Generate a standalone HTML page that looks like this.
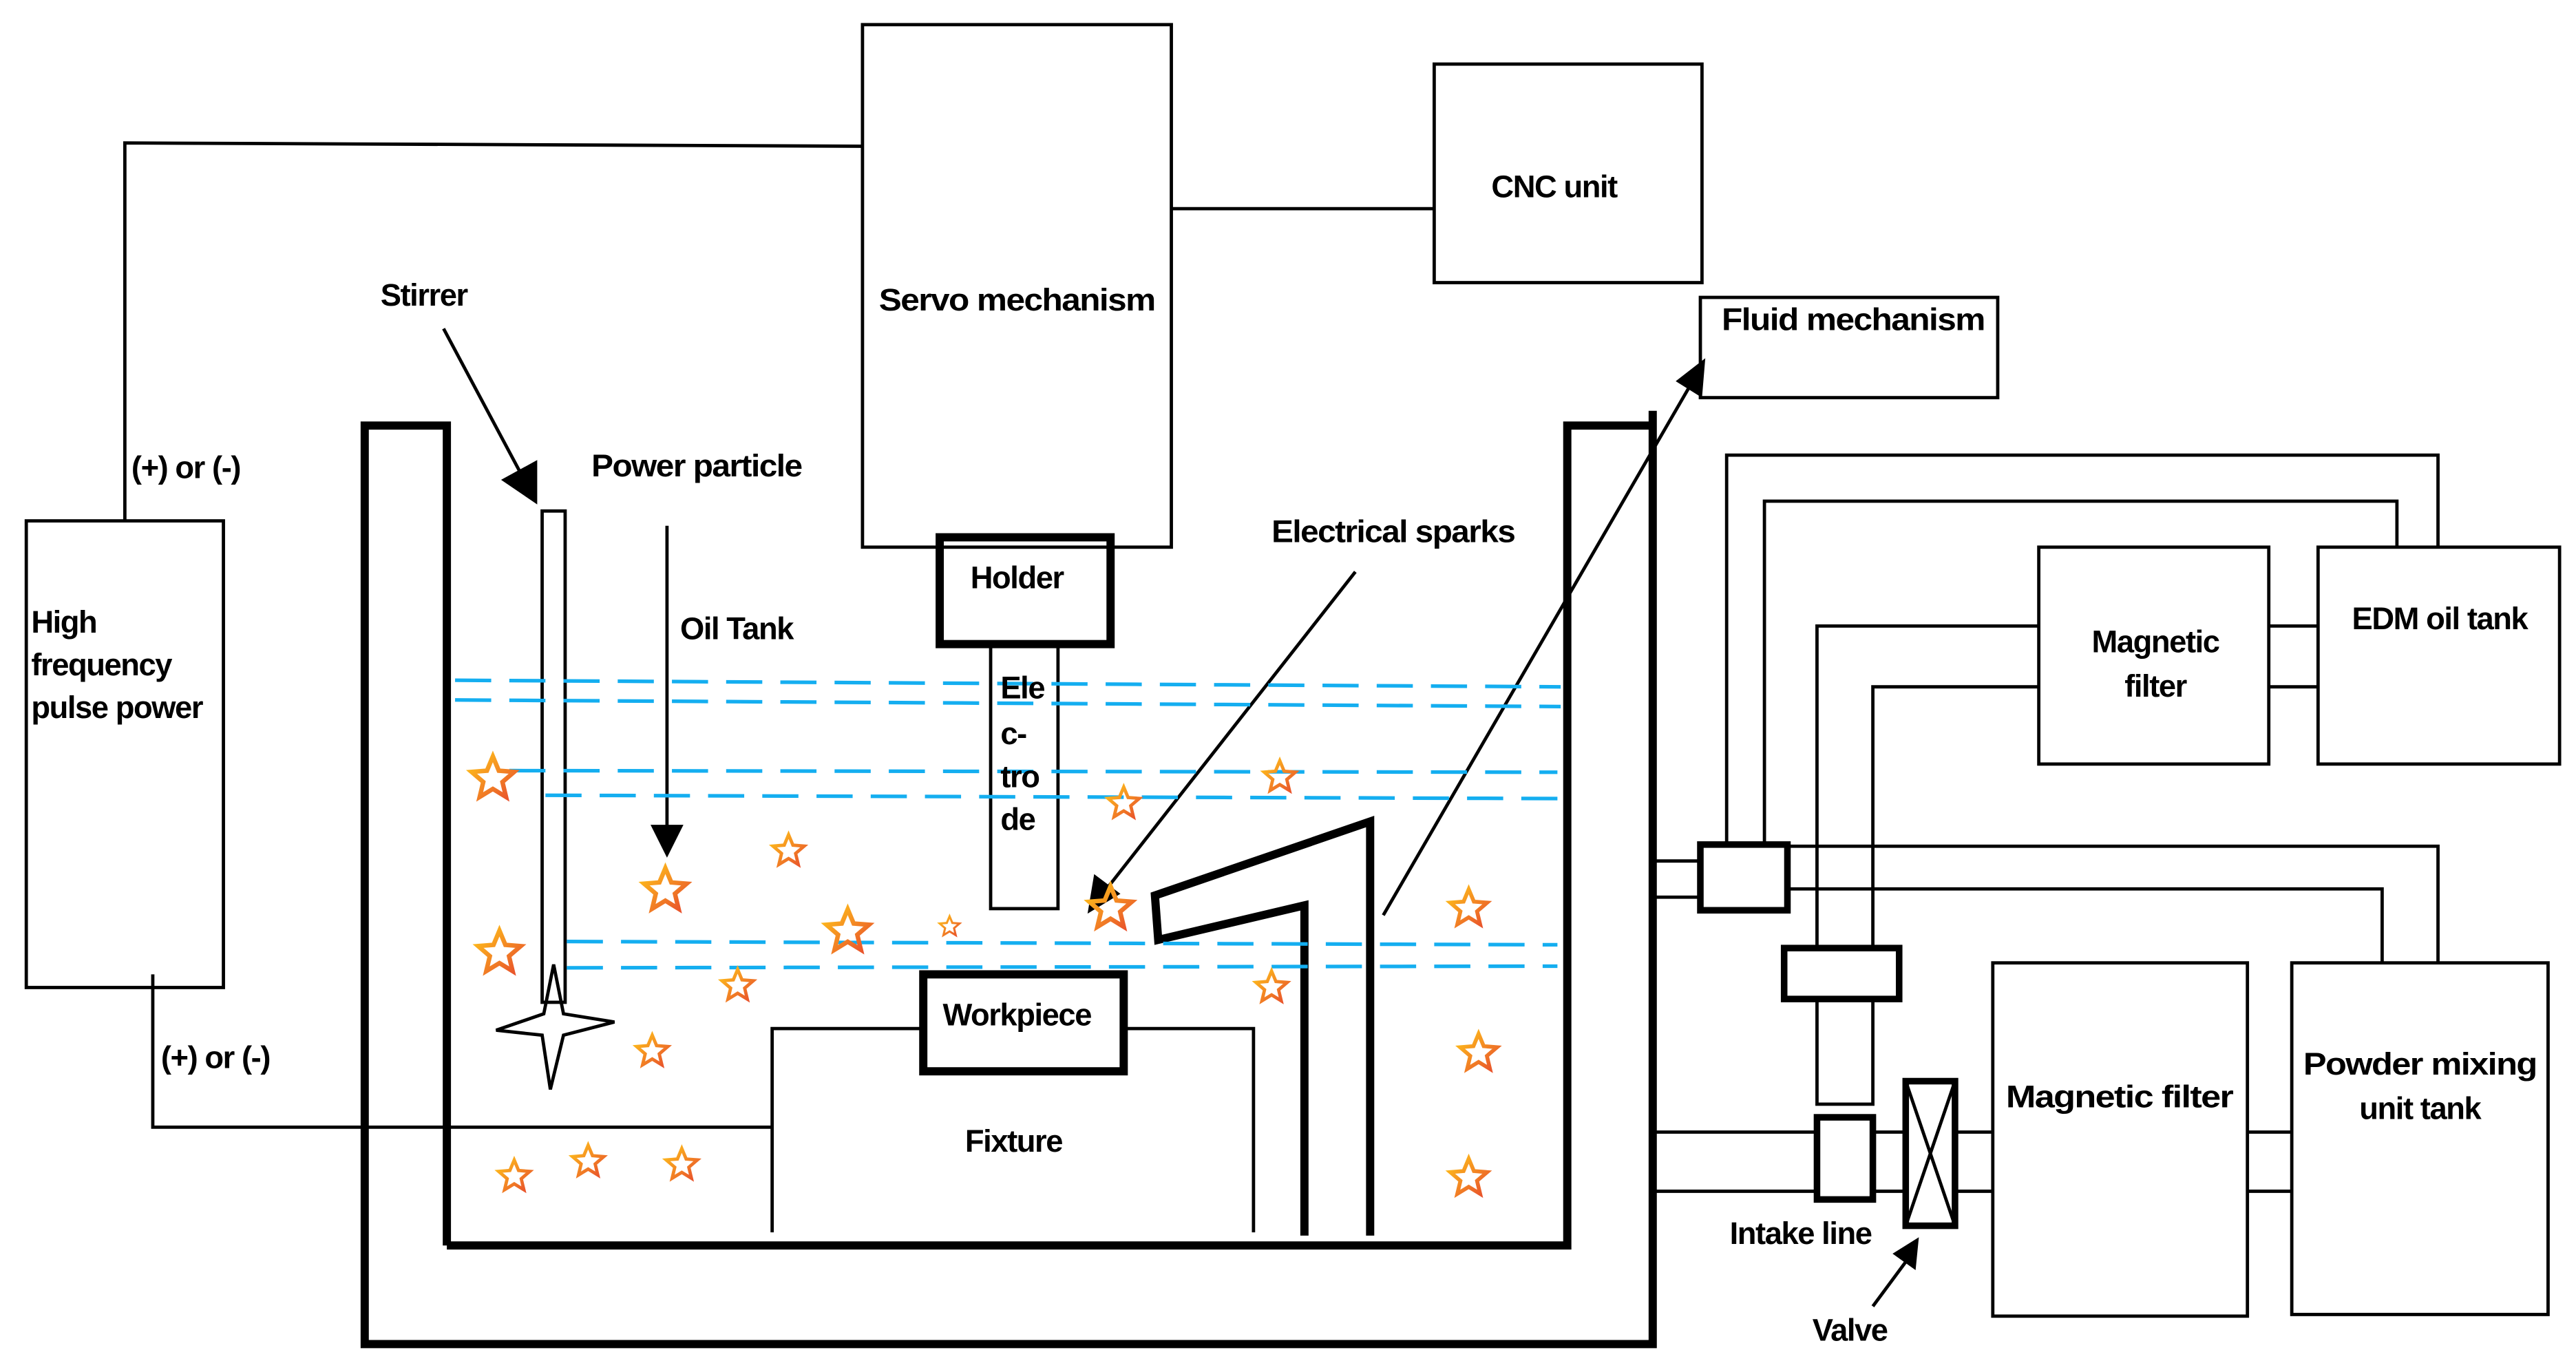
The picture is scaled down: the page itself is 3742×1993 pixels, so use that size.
<!DOCTYPE html>
<html><head><meta charset="utf-8"><style>
html,body{margin:0;padding:0;background:#fff;}
svg{display:block;}
text{font-family:"Liberation Sans",sans-serif;font-weight:bold;fill:#000;font-size:19px;letter-spacing:-0.6px;}
</style></head><body>
<svg width="3742" height="1993" viewBox="0 0 1568 835" preserveAspectRatio="none" xmlns="http://www.w3.org/2000/svg">
<defs>
<linearGradient id="sg" x1="0" y1="0" x2="1" y2="1">
<stop offset="0" stop-color="#ffc21a"/><stop offset="1" stop-color="#e84f2c"/></linearGradient>
<symbol id="st" viewBox="-1.1 -1.1 2.2 2.2" overflow="visible">
<polygon points="0,-1 0.265,-0.364 0.951,-0.309 0.428,0.139 0.588,0.809 0,0.45 -0.588,0.809 -0.428,0.139 -0.951,-0.309 -0.265,-0.364" fill="none" stroke="url(#sg)" stroke-width="0.2" stroke-linejoin="miter"/>
</symbol>
</defs>
<g fill="none" stroke="#000" stroke-width="2">
<!-- HF power -->
<rect x="16" y="317" width="120" height="284"/>
<polyline points="76,317 76,87 525,89"/>
<polyline points="93,593 93,686 470,686"/>
<!-- servo, cnc, fluid -->
<rect x="525" y="15" width="188" height="318"/>
<line x1="713" y1="127" x2="873" y2="127"/>
<rect x="873" y="39" width="163" height="133"/>
<rect x="1035" y="181" width="181" height="61"/>
<!-- tank -->
<g stroke-width="5">
<polyline points="272,758 272,259 222,259 222,818 1006,818 1006,250"/>
<polyline points="272,758 954,758 954,259 1006,259"/>
<rect x="572" y="327" width="104" height="65"/>
<rect x="562" y="593" width="122" height="59"/>
<polyline points="794,752 794,551 705,572 703,545 834,500 834,752"/>
</g>
<!-- electrode, stirrer -->
<rect x="603" y="392" width="41" height="161"/>
<rect x="330" y="311" width="14" height="299"/>
<polygon points="337,587 343,617 374,622 343,630 335,663 330,630 302,627 331,617" stroke-width="2"/>
<!-- fixture -->
<polyline points="470,750 470,626 562,626"/>
<polyline points="684,626 763,626 763,750"/>
<!-- arrows lines -->
<line x1="270" y1="200" x2="318" y2="290"/>
<line x1="406" y1="320" x2="406" y2="505"/>
<line x1="825" y1="348" x2="672" y2="543"/>
<line x1="842" y1="557" x2="1028" y2="236"/>
<line x1="1140" y1="795" x2="1160" y2="768"/>
<!-- right side -->
<rect x="1241" y="333" width="140" height="132"/>
<rect x="1411" y="333" width="147" height="132"/>
<line x1="1381" y1="381" x2="1411" y2="381"/>
<line x1="1381" y1="418" x2="1411" y2="418"/>
<polyline points="1106,577 1106,381 1241,381"/>
<polyline points="1140,577 1140,418 1241,418"/>
<rect x="1086" y="577" width="70" height="31" stroke-width="4"/>
<rect x="1106" y="608" width="34" height="64"/>
<polyline points="1051,513 1051,277 1484,277 1484,333"/>
<polyline points="1074,513 1074,305 1459,305 1459,333"/>
<rect x="1035" y="514" width="53" height="40" stroke-width="4"/>
<line x1="1006" y1="524" x2="1035" y2="524"/>
<line x1="1006" y1="546" x2="1035" y2="546"/>
<polyline points="1088,515 1484,515 1484,586"/>
<polyline points="1088,541 1450,541 1450,586"/>
<rect x="1395" y="586" width="156" height="214"/>
<rect x="1213" y="586" width="155" height="215"/>
<line x1="1368" y1="689" x2="1395" y2="689"/>
<line x1="1368" y1="725" x2="1395" y2="725"/>
<line x1="1006" y1="689" x2="1106" y2="689"/>
<line x1="1006" y1="725" x2="1106" y2="725"/>
<rect x="1106" y="680" width="34" height="50" stroke-width="4"/>
<line x1="1140" y1="689" x2="1160" y2="689"/>
<line x1="1140" y1="725" x2="1160" y2="725"/>
<line x1="1190" y1="689" x2="1213" y2="689"/>
<line x1="1190" y1="725" x2="1213" y2="725"/>
<rect x="1160" y="658" width="30" height="88" stroke-width="4"/>
<line x1="1160" y1="658" x2="1190" y2="746"/>
<line x1="1190" y1="658" x2="1160" y2="746"/>
</g>
<!-- arrowheads -->
<g fill="#000">
<polygon points="327,307 305,292 327,280"/>
<polygon points="406,522 396,502 416,502"/>
<polygon points="662,556 666,532 682,544"/>
<polygon points="1038,218 1036,242 1020,232"/>
<polygon points="1168,753 1166,773 1152,763"/>
</g>
<!-- dashed blue -->
<g stroke="#14aef0" stroke-width="2.2" stroke-dasharray="22,11">
<line x1="277" y1="414" x2="950" y2="418"/>
<line x1="277" y1="426" x2="950" y2="430"/>
<line x1="310" y1="469" x2="948" y2="470"/>
<line x1="332" y1="484" x2="948" y2="486"/>
<line x1="345" y1="573" x2="948" y2="575"/>
<line x1="345" y1="589" x2="948" y2="588"/>
</g>
<!-- stars -->
<use href="#st" x="285" y="459" width="30" height="30"/>
<use href="#st" x="289" y="565" width="30" height="30"/>
<use href="#st" x="390" y="527" width="30" height="30"/>
<use href="#st" x="469" y="507" width="22" height="22"/>
<use href="#st" x="438" y="589" width="22" height="22"/>
<use href="#st" x="386" y="629" width="22" height="22"/>
<use href="#st" x="302" y="705" width="22" height="22"/>
<use href="#st" x="347" y="696" width="22" height="22"/>
<use href="#st" x="404" y="698" width="22" height="22"/>
<use href="#st" x="501" y="552" width="30" height="30"/>
<use href="#st" x="571" y="557" width="14" height="14"/>
<use href="#st" x="661" y="538" width="30" height="30"/>
<use href="#st" x="673" y="478" width="22" height="22"/>
<use href="#st" x="768" y="462" width="22" height="22"/>
<use href="#st" x="763" y="590" width="22" height="22"/>
<use href="#st" x="881" y="540" width="26" height="26"/>
<use href="#st" x="887" y="628" width="26" height="26"/>
<use href="#st" x="881" y="704" width="26" height="26"/>
<!-- text -->
<text x="19" y="385">High</text>
<text x="19" y="411">frequency</text>
<text x="19" y="437">pulse power</text>
<text x="80" y="291">(+) or (-)</text>
<text x="98" y="650">(+) or (-)</text>
<text x="619" y="189" text-anchor="middle" textLength="168" lengthAdjust="spacingAndGlyphs">Servo mechanism</text>
<text x="946" y="120" text-anchor="middle">CNC unit</text>
<text x="1128" y="201" text-anchor="middle" textLength="160" lengthAdjust="spacingAndGlyphs">Fluid mechanism</text>
<text x="258" y="186" text-anchor="middle">Stirrer</text>
<text x="424" y="290" text-anchor="middle" textLength="128" lengthAdjust="spacingAndGlyphs">Power particle</text>
<text x="414" y="389">Oil Tank</text>
<text x="619" y="358" text-anchor="middle">Holder</text>
<text x="609" y="425">Ele</text>
<text x="609" y="453">c-</text>
<text x="609" y="479">tro</text>
<text x="609" y="505">de</text>
<text x="848" y="330" text-anchor="middle" textLength="148" lengthAdjust="spacingAndGlyphs">Electrical sparks</text>
<text x="619" y="624" text-anchor="middle">Workpiece</text>
<text x="617" y="701" text-anchor="middle">Fixture</text>
<text x="1312" y="397" text-anchor="middle">Magnetic</text>
<text x="1312" y="424" text-anchor="middle">filter</text>
<text x="1485" y="383" text-anchor="middle">EDM oil tank</text>
<text x="1290" y="674" text-anchor="middle" textLength="138" lengthAdjust="spacingAndGlyphs">Magnetic filter</text>
<text x="1473" y="654" text-anchor="middle" textLength="142" lengthAdjust="spacingAndGlyphs">Powder mixing</text>
<text x="1473" y="681" text-anchor="middle">unit tank</text>
<text x="1096" y="757" text-anchor="middle">Intake line</text>
<text x="1126" y="816" text-anchor="middle">Valve</text>
</svg>
</body></html>
